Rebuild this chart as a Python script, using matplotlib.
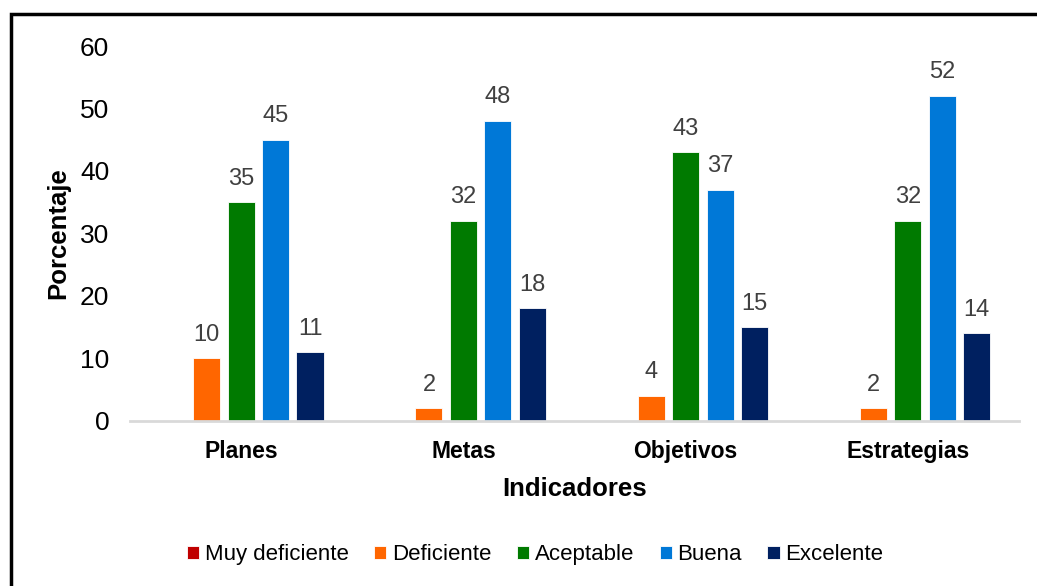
import numpy as np
import matplotlib.pyplot as plt
from matplotlib.patches import Rectangle

plt.rcParams['font.family'] = ['Liberation Sans', 'DejaVu Sans']

indicadores = ['Planes', 'Metas', 'Objetivos', 'Estrategias']
niveles = ['Muy deficiente', 'Deficiente', 'Aceptable', 'Buena', 'Excelente']
muy_deficiente = [0, 0, 0, 0]
deficiente = [10, 2, 4, 2]
aceptable = [35, 32, 43, 32]
buena = [45, 48, 37, 52]
excelente = [11, 18, 15, 14]
colores = ['#C00000', '#FF6600', '#007A00', '#0078D7', '#002060']

series = [muy_deficiente, deficiente, aceptable, buena, excelente]

fig = plt.figure(figsize=(10.37, 5.86), dpi=100)
ax = fig.add_axes([0.1254, 0.2816, 0.8572, 0.6399])

x = np.arange(len(indicadores))
paso = 0.155
ancho = 0.122
for i, (vals, nombre, color) in enumerate(zip(series, niveles, colores)):
    pos = x + (i - 2) * paso
    bars = ax.bar(pos, vals, width=ancho, color=color, label=nombre,
                  edgecolor='white', linewidth=0.6)
    for b, v in zip(bars, vals):
        if v > 0:
            ax.annotate(f'{v}', (b.get_x() + b.get_width() / 2, v),
                        xytext=(0, 9), textcoords='offset points',
                        ha='center', va='bottom', fontsize=17, color='#404040')

ax.set_xlim(-0.5, 3.5)
ax.set_ylim(0, 60)
ax.set_yticks(range(0, 61, 10))
ax.set_xticks(x)
ax.set_xticklabels(indicadores, fontsize=16.5, fontweight='bold')
ax.tick_params(axis='y', labelsize=19, length=0, pad=15)
ax.tick_params(axis='x', length=0, pad=14)
for s in ['top', 'right', 'left']:
    ax.spines[s].set_visible(False)
ax.spines['bottom'].set_color('#D9D9D9')
ax.spines['bottom'].set_linewidth(2)

ax.set_ylabel('Porcentaje', fontsize=18.5, fontweight='bold', labelpad=7)
ax.set_xlabel('Indicadores', fontsize=18.5, fontweight='bold', labelpad=10)

fig.legend(loc='center', bbox_to_anchor=(0.516, 0.053), ncol=5, frameon=False,
           fontsize=16, handlelength=0.55, handleheight=0.55, handletextpad=0.25,
           columnspacing=1.15)

# outer frame, open to the right and bottom
fig.patches.append(Rectangle((11 / 1037, -0.1), 1.2, 1 - 14 / 586 + 0.1,
                             transform=fig.transFigure, fill=False,
                             edgecolor='black', linewidth=2.5))

fig.savefig('out.png', dpi=100)
